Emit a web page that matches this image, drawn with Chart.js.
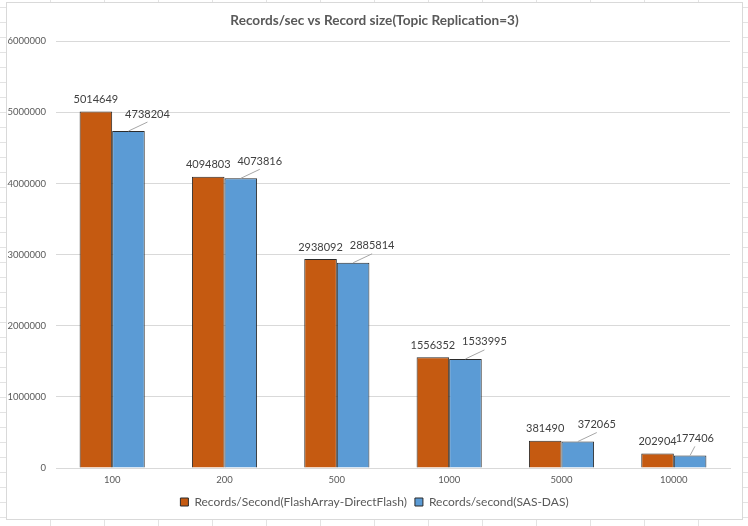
<!DOCTYPE html>
<html>
<head>
<meta charset="utf-8">
<script src="https://cdn.jsdelivr.net/npm/chart.js@4.4.1/dist/chart.umd.min.js"></script>
<style>
  html, body { margin: 0; padding: 0; }
  body {
    width: 748px; height: 526px; overflow: hidden; position: relative;
    background-color: #fff;
    background-image: linear-gradient(to right, #e3e3e3 1px, transparent 1px),
                      linear-gradient(to bottom, #e3e3e3 1px, transparent 1px);
    background-size: 54px 15px;
    background-position: 50px 7px;
  }
  #box {
    position: absolute; left: 6px; top: 2px; width: 735px; height: 516px;
    border: 1px solid #d9d9d9; background: #fff;
  }
  canvas { display: block; }
</style>
</head>
<body>
<div id="box"><canvas id="chart" width="735" height="516"></canvas></div>
<script>
// data
const categories = ['100', '200', '500', '1000', '5000', '10000'];
const flashArray = [5014649, 4094803, 2938092, 1556352, 381490, 202904];
const sasDas = [4738204, 4073816, 2885814, 1533995, 372065, 177406];
const yMax = 6000000;
const yStep = 1000000;

const FONT = 'Lato, "Open Sans", sans-serif';

// value labels above the bars (second series gets a small leader line)
const valueLabels = {
    id: 'valueLabels',
    afterDatasetsDraw(chart) {
        const ctx = chart.ctx;
        ctx.save();
        ctx.font = '11px ' + FONT;
        ctx.fillStyle = '#404040';
        ctx.textAlign = 'center';
        ctx.textBaseline = 'middle';
        chart.data.datasets.forEach((ds, di) => {
            const meta = chart.getDatasetMeta(di);
            meta.data.forEach((bar, i) => {
                const text = String(ds.data[i]);
                if (di === 0) {
                    ctx.fillText(text, bar.x, bar.y - 12);
                    return;
                }
                const w = ctx.measureText(text).width;
                let lx = bar.x + 19;
                lx = Math.min(lx, chart.chartArea.right - 16 - w / 2);
                const ly = bar.y - 17;
                ctx.strokeStyle = '#a6a6a6';
                ctx.lineWidth = 1;
                ctx.beginPath();
                ctx.moveTo(bar.x, bar.y);
                ctx.lineTo(lx, ly + 8);
                ctx.stroke();
                ctx.fillText(text, lx, ly);
            });
        });
        ctx.restore();
    }
};

const ctx = document.getElementById('chart').getContext('2d');
new Chart(ctx, {
    type: 'bar',
    data: {
        labels: categories,
        datasets: [{
            label: 'Records/Second(FlashArray-DirectFlash)',
            data: flashArray,
            backgroundColor: '#C55A11',
            borderColor: '#2b2b2b',
            borderWidth: 1,
            categoryPercentage: 0.58,
            barPercentage: 1
        }, {
            label: 'Records/second(SAS-DAS)',
            data: sasDas,
            backgroundColor: '#5B9BD5',
            borderColor: '#2b2b2b',
            borderWidth: 1,
            categoryPercentage: 0.58,
            barPercentage: 1
        }]
    },
    options: {
        responsive: false,
        animation: false,
        layout: { padding: { left: 0, right: 0, top: 0, bottom: 1 } },
        plugins: {
            title: {
                display: true,
                text: 'Records/sec vs Record size(Topic Replication=3)',
                color: '#595959',
                font: { family: FONT, size: 13.6, weight: 'bold' },
                padding: { top: 9, bottom: 13 }
            },
            legend: {
                position: 'bottom',
                labels: {
                    color: '#595959',
                    font: { family: FONT, size: 12 },
                    boxWidth: 8,
                    boxHeight: 8,
                    padding: 8
                }
            },
            tooltip: { enabled: false }
        },
        scales: {
            x: {
                grid: { display: false, drawTicks: false },
                border: { color: '#d9d9d9', width: 1 },
                ticks: { color: '#595959', font: { family: FONT, size: 9.5 }, padding: 6 },
                afterFit: s => { s.height = 20; }
            },
            y: {
                min: 0,
                max: yMax,
                grid: { color: '#d9d9d9', drawTicks: false },
                border: { display: false },
                ticks: {
                    stepSize: yStep,
                    color: '#595959',
                    font: { family: FONT, size: 9.5 },
                    padding: 10,
                    callback: v => String(v)
                },
                afterFit: s => { s.width = 49; }
            },
            // empty right-hand spacer so the plot ends where the reference does
            spacer: {
                position: 'right',
                grid: { display: false, drawTicks: false },
                border: { display: false },
                ticks: { display: false },
                afterFit: s => { s.width = 12; }
            }
        }
    },
    plugins: [valueLabels]
});
</script>
</body>
</html>
